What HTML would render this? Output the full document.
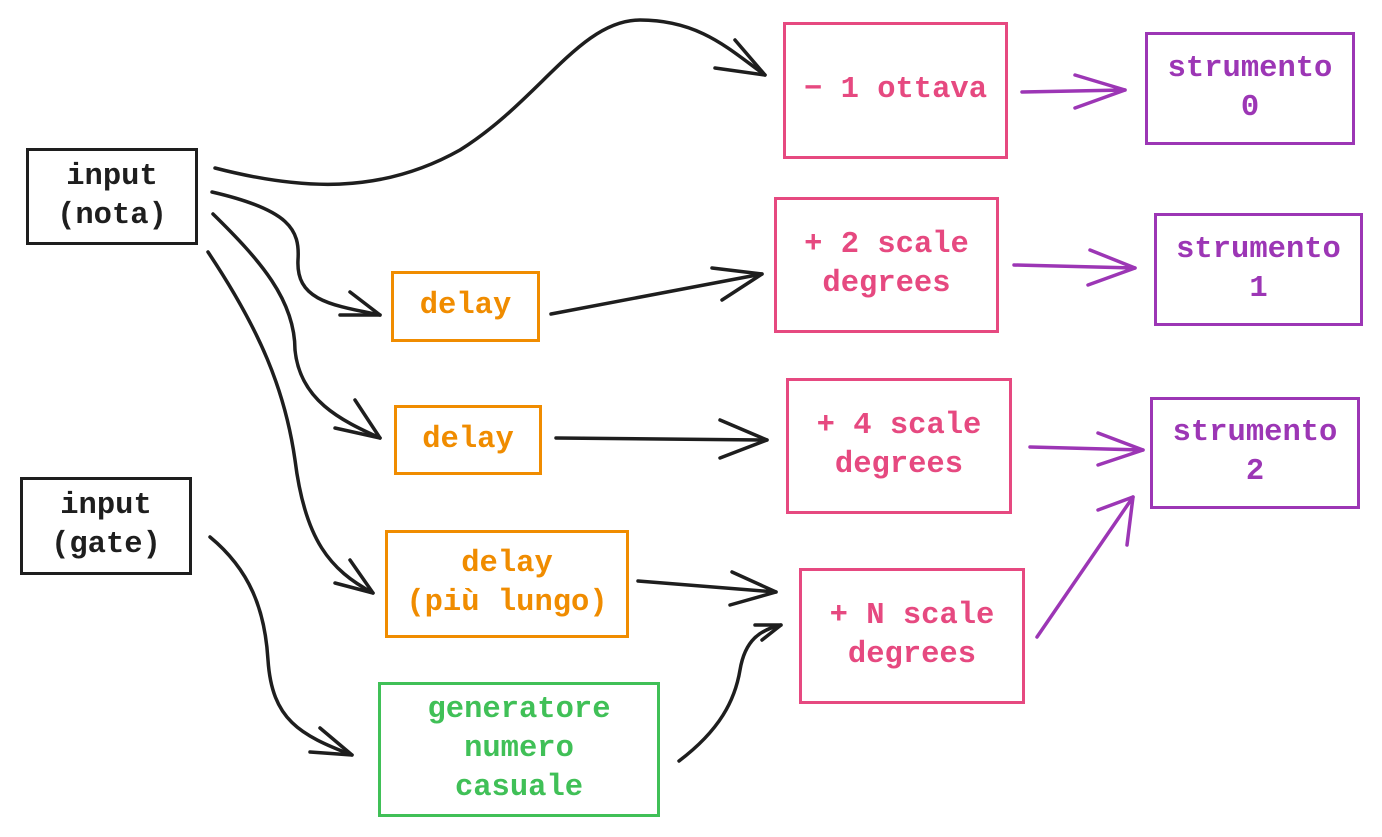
<!DOCTYPE html>
<html><head><meta charset="utf-8"><style>
body{margin:0;width:1382px;height:837px;background:#fff;overflow:hidden;position:relative}
.b{position:absolute;box-sizing:border-box;border:3px solid;display:flex;align-items:center;justify-content:center;text-align:center;font-family:"Liberation Mono",monospace;font-size:30.5px;line-height:39px;font-weight:bold}
.k{border-color:#1e1e1e;color:#1e1e1e}
.p{border-color:#e64980;color:#e64980}
.v{border-color:#9c36b5;color:#9c36b5}
.o{border-color:#f08c00;color:#f08c00}
.g{border-color:#40c057;color:#40c057}
svg{position:absolute;left:0;top:0}
</style></head><body>
<svg width="1382" height="837" fill="none" stroke-linecap="round" stroke-linejoin="round">
<g stroke="#1e1e1e" stroke-width="3.5">
<path d="M215 168 C300 190 380 195 460 150 C540 100 580 20 640 20 C700 20 730 50 765 75"/><path d="M735 40 L765 75 L715 68"/>
<path d="M212 192 C290 210 300 230 298 260 C296 300 330 305 380 315"/><path d="M350 292 L380 315 L340 315"/>
<path d="M213 214 C260 260 295 300 295 350 C300 400 340 420 380 438"/><path d="M355 400 L380 438 L335 428"/>
<path d="M208 252 C260 330 285 390 295 460 C305 540 330 570 373 593"/><path d="M350 560 L373 593 L335 583"/>
<path d="M210 537 C250 570 265 610 268 660 C272 720 300 735 352 755"/><path d="M320 728 L352 755 L310 752"/>
<path d="M551 314 L762 274"/><path d="M712 268 L762 274 L722 300"/>
<path d="M556 438 L767 440"/><path d="M720 420 L767 440 L720 458"/>
<path d="M638 581 L776 592"/><path d="M732 572 L776 592 L730 605"/>
<path d="M679 761 C720 730 735 700 740 670 C745 640 760 630 781 625"/><path d="M755 625 L781 625 L762 640"/>
</g>
<g stroke="#9c36b5" stroke-width="3.5">
<path d="M1022 92 L1125 90"/><path d="M1075 75 L1125 90 L1075 108"/>
<path d="M1014 265 L1135 268"/><path d="M1090 250 L1135 268 L1088 285"/>
<path d="M1030 447 L1143 450"/><path d="M1098 433 L1143 450 L1098 465"/>
<path d="M1037 637 L1133 497"/><path d="M1098 510 L1133 497 L1127 545"/>
</g>
</svg>
<div class="b k" style="left:26px;top:148px;width:172px;height:97px">input<br>(nota)</div>
<div class="b k" style="left:20px;top:477px;width:172px;height:98px">input<br>(gate)</div>
<div class="b p" style="left:783px;top:22px;width:225px;height:137px">− 1 ottava</div>
<div class="b v" style="left:1145px;top:32px;width:210px;height:113px">strumento<br>0</div>
<div class="b p" style="left:774px;top:197px;width:225px;height:136px">+ 2 scale<br>degrees</div>
<div class="b v" style="left:1154px;top:213px;width:209px;height:113px">strumento<br>1</div>
<div class="b p" style="left:786px;top:378px;width:226px;height:136px">+ 4 scale<br>degrees</div>
<div class="b v" style="left:1150px;top:397px;width:210px;height:112px">strumento<br>2</div>
<div class="b p" style="left:799px;top:568px;width:226px;height:136px">+ N scale<br>degrees</div>
<div class="b o" style="left:391px;top:271px;width:149px;height:71px">delay</div>
<div class="b o" style="left:394px;top:405px;width:148px;height:70px">delay</div>
<div class="b o" style="left:385px;top:530px;width:244px;height:108px">delay<br>(più lungo)</div>
<div class="b g" style="left:378px;top:682px;width:282px;height:135px">generatore<br>numero<br>casuale</div>
</body></html>
